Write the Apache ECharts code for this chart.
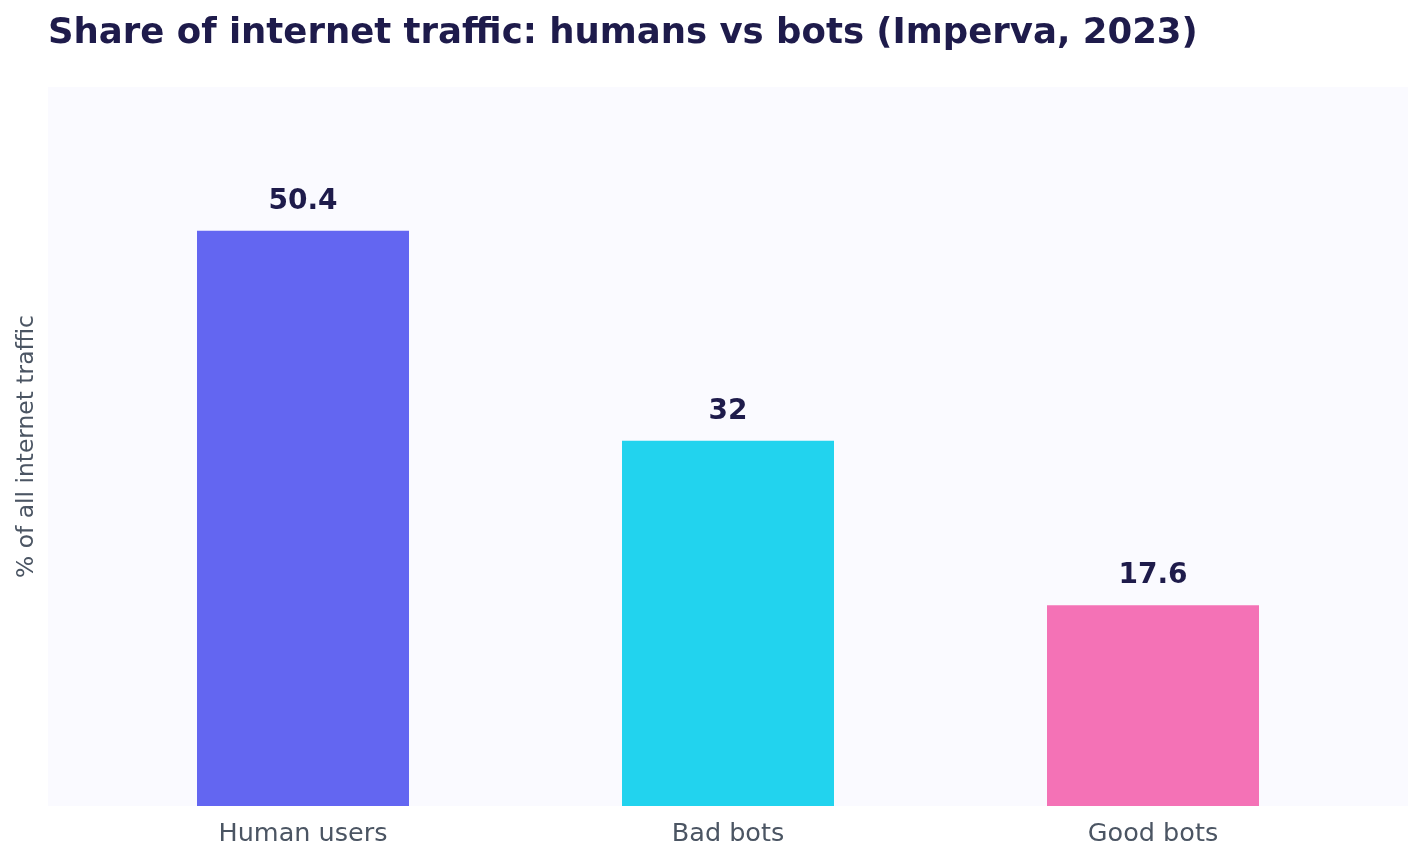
<!DOCTYPE html>
<html>
<head>
<meta charset="utf-8">
<title>Share of internet traffic</title>
<script src="https://cdn.jsdelivr.net/npm/echarts@6/dist/echarts.min.js"></script>
<style>
  html, body { margin: 0; padding: 0; background: #ffffff; }
  #chart { width: 1423px; height: 864px; }
</style>
</head>
<body>
<div id="chart"></div>
<script>
const categories = ['Human users', 'Bad bots', 'Good bots'];
const shares = [50.4, 32, 17.6];
const barColors = ['#6366f1', '#22d3ee', '#f472b6'];
const positions = [0, 1, 2];

const font = 'DejaVu Sans';

const seriesData = shares.map(function (v, i) {
  return {
    value: [positions[i], v],
    itemStyle: { color: barColors[i] }
  };
});

const chart = echarts.init(document.getElementById('chart'));

chart.setOption({
  animation: false,
  backgroundColor: '#ffffff',
  title: {
    text: 'Share of internet traffic: humans vs bots (Imperva, 2023)',
    left: 43,
    top: 11,
    textStyle: {
      fontFamily: font,
      fontWeight: 'bold',
      fontSize: 35.5,
      color: '#1e1b4b'
    }
  },
  grid: {
    left: 48,
    right: 15,
    top: 87,
    bottom: 58,
    show: true,
    backgroundColor: '#fafaff',
    borderWidth: 0
  },
  xAxis: {
    type: 'value',
    min: -0.6,
    max: 2.6,
    splitLine: { show: false },
    axisLine: { show: false },
    axisTick: { show: false },
    axisLabel: {
      customValues: positions,
      margin: 15,
      fontFamily: font,
      fontSize: 25.5,
      color: '#4b5563',
      formatter: function (v) {
        return categories[Math.round(v)];
      }
    }
  },
  yAxis: {
    type: 'value',
    min: 0,
    max: 63,
    name: '% of all internet traffic',
    nameLocation: 'middle',
    nameGap: 10,
    nameTextStyle: {
      fontFamily: font,
      fontSize: 23.4,
      color: '#4b5563'
    },
    axisLine: { show: false },
    axisTick: { show: false },
    axisLabel: { show: false },
    splitLine: { show: false }
  },
  series: [{
    type: 'bar',
    barWidth: 212,
    data: seriesData,
    label: {
      show: true,
      position: 'top',
      distance: 15,
      fontFamily: font,
      fontWeight: 'bold',
      fontSize: 28,
      color: '#1e1b4b',
      formatter: function (p) {
        return p.value[1];
      }
    }
  }]
});
</script>
</body>
</html>
